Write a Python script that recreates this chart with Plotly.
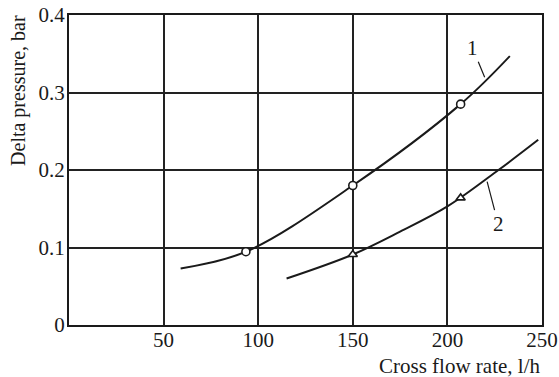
import plotly.graph_objects as go

# Curve 1: smooth pressure-drop curve and measured points (circles)
curve1_x = [59, 93.5, 150, 207, 233]
curve1_y = [0.073, 0.0946, 0.180, 0.285, 0.347]
points1_x = [93.5, 150, 207]
points1_y = [0.0946, 0.180, 0.285]

# Curve 2: smooth pressure-drop curve and measured points (triangles)
curve2_x = [115, 150, 175, 200, 227, 248]
curve2_y = [0.060, 0.091, 0.1205, 0.153, 0.200, 0.239]
points2_x = [150, 207]
points2_y = [0.091, 0.164]

x_ticks = [50, 100, 150, 200, 250]
x_tick_labels = ["50", "100", "150", "200", "250"]
y_ticks = [0, 0.1, 0.2, 0.3, 0.4]
y_tick_labels = ["0", "0.1", "0.2", "0.3", "0.4"]

FONT = "Liberation Serif, Times New Roman, serif"
INK = "#1a1a1a"

fig = go.Figure()

fig.add_trace(go.Scatter(x=curve1_x, y=curve1_y, mode="lines",
                         line=dict(color=INK, width=2, shape="spline", smoothing=1.0),
                         hoverinfo="skip"))
fig.add_trace(go.Scatter(x=curve2_x, y=curve2_y, mode="lines",
                         line=dict(color=INK, width=2, shape="spline", smoothing=1.0),
                         hoverinfo="skip"))
fig.add_trace(go.Scatter(x=points1_x, y=points1_y, mode="markers",
                         marker=dict(symbol="circle", size=8, color="white",
                                     line=dict(color=INK, width=1.6))))
fig.add_trace(go.Scatter(x=points2_x, y=points2_y, mode="markers",
                         marker=dict(symbol="triangle-up", size=8, color="white",
                                     line=dict(color=INK, width=1.6))))

# Curve labels with short leader lines
fig.add_annotation(x=219.7, y=0.3196, text="1", showarrow=True, arrowhead=0,
                   arrowwidth=1.2, arrowcolor=INK, ax=-12, ay=-29, standoff=0,
                   font=dict(family=FONT, size=21, color=INK))
fig.add_annotation(x=221.0, y=0.1849, text="2", showarrow=True, arrowhead=0,
                   arrowwidth=1.2, arrowcolor=INK, ax=11, ay=42, standoff=0,
                   font=dict(family=FONT, size=21, color=INK))

# Axis titles
fig.add_annotation(xref="paper", yref="paper", x=-0.108, y=0.758,
                   text="Delta pressure, bar", textangle=-90, showarrow=False,
                   xanchor="center", yanchor="middle",
                   font=dict(family=FONT, size=20, color=INK))
fig.add_annotation(xref="paper", yref="paper", x=1.0, y=-0.131,
                   text="Cross flow rate, l/h", showarrow=False,
                   xanchor="right", yanchor="middle",
                   font=dict(family=FONT, size=21, color=INK))

axis_common = dict(showline=True, linecolor=INK, linewidth=2, mirror=True,
                   showgrid=True, gridcolor="#222222", gridwidth=1.8,
                   zeroline=False, ticks="", ticklen=0, automargin=False,
                   tickfont=dict(family=FONT, size=21, color=INK))

fig.update_xaxes(range=[0, 250], tickvals=x_ticks, ticktext=x_tick_labels,
                 ticklabelstandoff=-5, **axis_common)
fig.update_yaxes(range=[0, 0.4], tickvals=y_ticks, ticktext=y_tick_labels,
                 ticklabelstandoff=-2, **axis_common)

fig.update_layout(width=559, height=377,
                  margin=dict(l=69, r=17, t=15, b=52),
                  paper_bgcolor="white", plot_bgcolor="white",
                  showlegend=False)

fig.write_html("out.html")
